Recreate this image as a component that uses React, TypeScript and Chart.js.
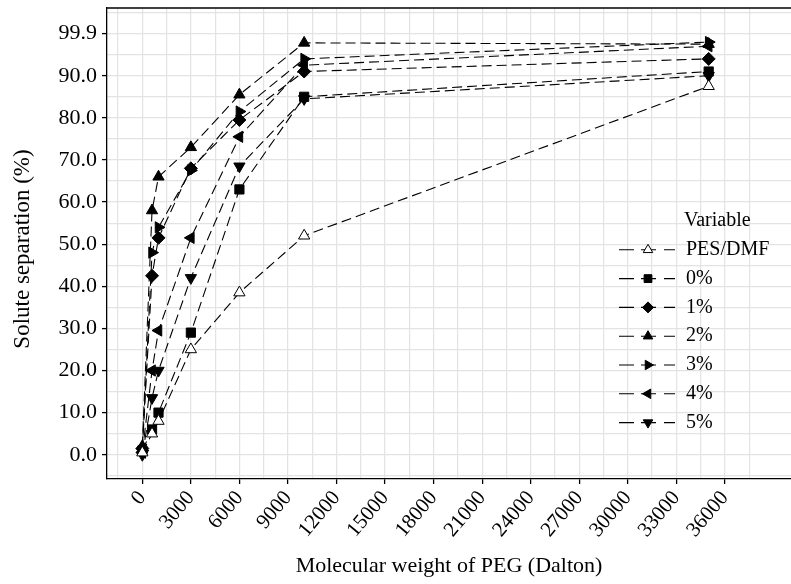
import React, { useEffect, useRef } from 'react';
import { Chart, registerables } from 'chart.js';
import { drawPoint } from 'chart.js/helpers';

Chart.register(...registerables);

// ---- data ----
const MOLECULAR_WEIGHT = [0, 600, 1000, 3000, 6000, 10000, 35000];
const SERIES_LABELS = ['PES/DMF', '0%', '1%', '2%', '3%', '4%', '5%'];
const SEP_PES_DMF = [0.5, 5, 8, 25, 38.5, 52, 87.5];
const SEP_0 = [1, 6, 10, 29, 63, 85, 91];
const SEP_1 = [1.5, 42.5, 51.5, 68, 79.5, 91, 94];
const SEP_2 = [2, 58, 66, 73, 85.5, 97.8, 97.5];
const SEP_3 = [1, 48, 54, 67.5, 81.5, 94, 98];
const SEP_4 = [0.5, 20, 29.5, 51.5, 75.5, 92.5, 97];
const SEP_5 = [0, 13.5, 20, 42, 68.5, 84.5, 90];
const Y_TICK_VALUES = [0, 10, 20, 30, 40, 50, 60, 70, 80, 90, 100];
const Y_TICK_LABELS = ['0.0', '10.0', '20.0', '30.0', '40.0', '50.0', '60.0', '70.0', '80.0', '90.0', '99.9'];
const X_TICK_VALUES = [0, 3000, 6000, 9000, 12000, 15000, 18000, 21000, 24000, 27000, 30000, 33000, 36000];
const X_TITLE = 'Molecular weight of PEG (Dalton)';
const Y_TITLE = 'Solute separation (%)';
const LEGEND_TITLE = 'Variable';

const FONT = "'Liberation Serif', 'Times New Roman', serif";
const GRID = '#e4e1e7';

export default function App() {
  const ref = useRef<HTMLCanvasElement>(null);

  useEffect(() => {
    if (!ref.current) return;
    const seriesValues = [SEP_PES_DMF, SEP_0, SEP_1, SEP_2, SEP_3, SEP_4, SEP_5];
    const styles = [
      { pointStyle: 'triangle', rotation: 0, fill: '#ffffff' },
      { pointStyle: 'rect', rotation: 0, fill: '#000000' },
      { pointStyle: 'rectRot', rotation: 0, fill: '#000000' },
      { pointStyle: 'triangle', rotation: 0, fill: '#000000' },
      { pointStyle: 'triangle', rotation: 90, fill: '#000000' },
      { pointStyle: 'triangle', rotation: 270, fill: '#000000' },
      { pointStyle: 'triangle', rotation: 180, fill: '#000000' },
    ];
    const datasets = SERIES_LABELS.map((label, i) => ({
      label,
      data: MOLECULAR_WEIGHT.map((x, j) => ({ x, y: seriesValues[i][j] })),
      borderColor: '#000',
      borderWidth: 1.1,
      borderDash: [10, 5],
      pointStyle: styles[i].pointStyle as any,
      pointRotation: styles[i].rotation,
      pointRadius: 6.5,
      pointBackgroundColor: styles[i].fill,
      pointBorderColor: '#000',
      pointBorderWidth: 1,
      tension: 0,
      fill: false,
    }));

    const xTickSet = new Set(X_TICK_VALUES);
    const yTickSet = new Set(Y_TICK_VALUES);

    const framePlugin = {
      id: 'frameAndLegend',
      afterDraw(chart: any) {
        const { ctx, chartArea } = chart;
        ctx.save();
        ctx.strokeStyle = '#000';
        ctx.lineWidth = 1.3;
        ctx.beginPath();
        ctx.moveTo(chartArea.left, chartArea.top + 0.5);
        ctx.lineTo(chart.width, chartArea.top + 0.5);
        ctx.stroke();

        // axis titles
        ctx.fillStyle = '#000';
        ctx.textAlign = 'center';
        ctx.textBaseline = 'middle';
        ctx.font = `22px ${FONT}`;
        ctx.fillText(X_TITLE, 449, 566);
        ctx.save();
        ctx.translate(23, 249);
        ctx.rotate(-Math.PI / 2);
        ctx.font = `23px ${FONT}`;
        ctx.fillText(Y_TITLE, 0, 0);
        ctx.restore();

        // legend
        const textX = 686;
        const titleY = 221;
        const rowGap = 28.8;
        ctx.fillStyle = '#000';
        ctx.font = `20px ${FONT}`;
        ctx.textAlign = 'left';
        ctx.textBaseline = 'middle';
        ctx.fillText(LEGEND_TITLE, textX - 2, titleY);
        SERIES_LABELS.forEach((label, i) => {
          const y = titleY + rowGap * (i + 1);
          ctx.strokeStyle = '#000';
          ctx.lineWidth = 1.1;
          ctx.setLineDash([]);
          ctx.beginPath();
          ctx.moveTo(619, y); ctx.lineTo(634, y);
          ctx.moveTo(641, y); ctx.lineTo(656, y);
          ctx.moveTo(664, y); ctx.lineTo(675, y);
          ctx.stroke();
          ctx.fillStyle = styles[i].fill;
          ctx.strokeStyle = '#000';
          ctx.lineWidth = 1;
          drawPoint(ctx, { pointStyle: styles[i].pointStyle as any, rotation: styles[i].rotation, radius: 5.5, borderWidth: 1 }, 648, y);
          ctx.fillStyle = '#000';
          ctx.fillText(label, textX, y);
        });
        ctx.restore();
      },
    };

    const chart = new Chart(ref.current, {
      type: 'line',
      data: { datasets },
      plugins: [framePlugin],
      options: {
        animation: false,
        responsive: true,
        maintainAspectRatio: false,
        layout: { padding: { top: 7, left: 0, right: 0, bottom: 0 } },
        plugins: { legend: { display: false }, tooltip: { enabled: false } },
        scales: {
          x: {
            type: 'linear',
            min: -2183,
            max: 40117,
            afterBuildTicks(scale: any) {
              const t = [];
              for (let v = -1500; v <= 37500; v += 1500) t.push({ value: v });
              scale.ticks = t;
            },
            afterFit(scale: any) {
              scale.height = 105;
              scale.paddingLeft = 0;
              scale.paddingRight = 0;
            },
            grid: {
              color: GRID,
              lineWidth: 1.2,
              drawTicks: true,
              tickLength: 5,
              tickColor: (ctx: any) => (ctx.tick && xTickSet.has(ctx.tick.value) ? '#000' : 'rgba(0,0,0,0)'),
              tickWidth: 1.3,
            },
            border: { display: true, color: '#000', width: 1.3 },
            ticks: {
              autoSkip: false,
              minRotation: 50,
              maxRotation: 50,
              padding: 2,
              color: '#000',
              font: { family: FONT, size: 21 },
              callback: (v: any) => (xTickSet.has(v) ? String(v) : ''),
            },
            title: { display: false },
          },
          y: {
            type: 'linear',
            min: -5.76,
            max: 106.2,
            afterBuildTicks(scale: any) {
              const t = [];
              for (let v = -5; v <= 105; v += 5) t.push({ value: v });
              scale.ticks = t;
            },
            afterFit(scale: any) {
              scale.width = 107;
              scale.paddingTop = 0;
              scale.paddingBottom = 0;
            },
            grid: {
              color: GRID,
              lineWidth: 1.2,
              drawTicks: true,
              tickLength: 5,
              tickColor: (ctx: any) => (ctx.tick && yTickSet.has(ctx.tick.value) ? '#000' : 'rgba(0,0,0,0)'),
              tickWidth: 1.3,
            },
            border: { display: true, color: '#000', width: 1.3 },
            ticks: {
              autoSkip: false,
              padding: 5,
              color: '#000',
              font: { family: FONT, size: 22 },
              callback: (v: any) => {
                const idx = Y_TICK_VALUES.indexOf(v);
                return idx >= 0 ? Y_TICK_LABELS[idx] : '';
              },
            },
            title: { display: false },
          },
        },
      },
    });
    return () => chart.destroy();
  }, []);

  return (
    <div style={{ position: 'fixed', left: 0, top: 0, width: 791, height: 584, background: '#fff', overflow: 'hidden' }}>
      <div style={{ position: 'absolute', left: 0, top: 0, width: 799, height: 584 }}>
        <canvas ref={ref} />
      </div>
    </div>
  );
}
